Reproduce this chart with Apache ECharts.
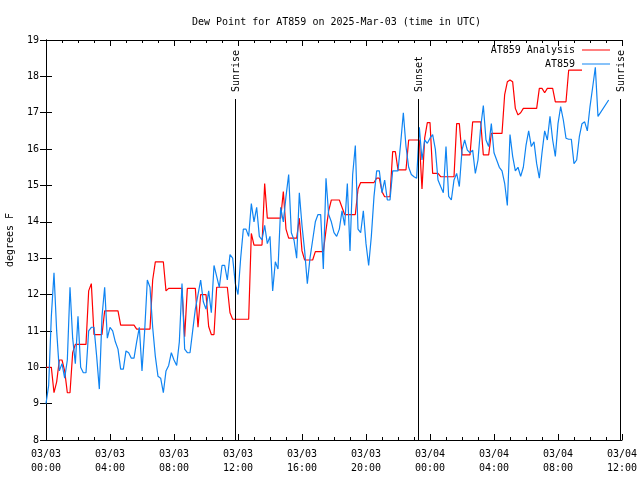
<!DOCTYPE html>
<html>
<head>
<meta charset="utf-8">
<script src="https://cdn.jsdelivr.net/npm/echarts@6/dist/echarts.min.js"></script>
<style>
html,body{margin:0;padding:0;background:#fff;}
#chart{width:640px;height:480px;}
</style>
</head>
<body>
<div id="chart"></div>
<script>
// ---- data ----
const titleText = 'Dew Point for AT859 on 2025-Mar-03 (time in UTC)';
const yAxisName = 'degrees F';
const stepMinutes = 10; // sample spacing, starting 2025-03-03 00:00 UTC
const xTickLabels = ['03/03\n00:00','03/03\n04:00','03/03\n08:00','03/03\n12:00','03/03\n16:00','03/03\n20:00','03/04\n00:00','03/04\n04:00','03/04\n08:00','03/04\n12:00'];
const seriesNames = ['AT859 Analysis', 'AT859'];

const analysisValues = [
10.0,10.0,10.0,9.3,9.6,10.2,10.2,9.9,9.3,9.3,
10.4,10.63,10.63,10.63,10.63,10.63,12.1,12.3,10.9,10.9,
10.9,10.9,11.55,11.55,11.55,11.55,11.55,11.55,11.16,11.16,
11.16,11.16,11.16,11.16,11.05,11.05,11.05,11.05,11.05,11.05,
12.4,12.9,12.9,12.9,12.9,12.1,12.17,12.17,12.17,12.17,
12.17,12.17,10.84,12.17,12.17,12.17,12.17,11.1,12.0,12.0,
12.0,11.12,10.9,10.9,12.2,12.2,12.2,12.2,12.2,11.5,
11.32,11.32,11.32,11.32,11.32,11.32,11.32,13.68,13.36,13.36,
13.36,13.36,15.05,14.1,14.1,14.1,14.1,14.1,14.1,14.83,
13.8,13.55,13.55,13.55,13.55,14.1,13.2,12.95,12.95,12.95,
12.95,13.18,13.18,13.18,13.18,13.77,14.3,14.6,14.6,14.6,
14.6,14.4,14.2,14.2,14.2,14.2,14.2,14.9,15.08,15.08,
15.08,15.08,15.08,15.08,15.2,15.2,14.83,14.69,14.69,14.69,
15.93,15.93,15.43,15.43,15.43,15.43,16.25,16.25,16.25,16.25,
16.25,14.9,16.3,16.73,16.73,15.33,15.33,15.33,15.24,15.24,
15.24,15.24,15.24,15.24,16.7,16.7,15.84,15.84,15.84,15.84,
16.75,16.75,16.75,16.75,15.84,15.84,15.84,16.43,16.43,16.43,
16.43,16.43,17.5,17.85,17.9,17.85,17.12,16.94,17.0,17.12,
17.12,17.12,17.12,17.12,17.12,17.67,17.67,17.55,17.67,17.67,
17.67,17.3,17.3,17.3,17.3,17.3,18.17,18.17,18.17,18.17,
18.17,18.17
];

const stationValues = [
9.0,9.5,11.4,12.6,11.0,9.9,10.1,9.7,10.2,12.2,
10.8,10.1,11.4,10.0,9.85,9.85,11.0,11.1,11.1,10.3,
9.4,11.4,12.2,10.8,11.1,11.0,10.7,10.5,9.95,9.95,
10.45,10.4,10.25,10.25,10.7,11.1,9.9,11.0,12.4,12.2,
11.1,10.3,9.75,9.7,9.3,9.9,10.05,10.4,10.2,10.05,
10.7,12.3,10.5,10.4,10.4,11.0,11.6,12.0,12.4,11.8,
11.6,12.1,11.5,12.8,12.5,12.2,12.8,12.8,12.4,13.1,
13.0,12.3,12.0,13.0,13.8,13.8,13.6,14.5,14.0,14.4,
13.6,13.5,13.9,13.4,13.6,12.1,12.9,12.7,14.4,14.0,
14.7,15.3,13.7,13.5,13.0,14.8,13.9,13.2,12.3,13.0,
13.5,14.0,14.2,14.2,12.7,15.2,14.2,14.0,13.7,13.6,
13.8,14.3,13.9,15.05,13.2,15.3,16.1,13.8,13.7,14.3,
13.4,12.8,13.6,14.7,15.4,15.4,14.8,15.15,14.6,14.6,
15.4,15.4,15.4,16.16,17.0,16.07,15.5,15.3,15.24,15.2,
16.6,15.7,16.25,16.16,16.3,16.4,16.0,15.15,14.97,14.8,
16.07,14.7,14.6,15.15,15.33,14.97,15.97,16.25,15.97,15.9,
15.97,15.33,15.7,16.6,17.2,16.25,16.07,16.7,15.9,15.7,
15.5,15.4,15.06,14.45,16.4,15.8,15.4,15.5,15.25,15.5,
16.1,16.5,16.07,16.2,15.6,15.2,15.9,16.5,16.25,16.9,
16.25,15.8,16.7,17.17,16.8,16.3,16.27,16.27,15.6,15.7,
16.34,16.7,16.75,16.5,17.17,17.7,18.25,16.9,null,null,
null,17.35
];

const sunEventLabels = ['Sunrise', 'Sunset', 'Sunrise'];
const sunEventHours = [11.83, 23.27, 35.88];

// ---- styles ----
const FONT = 'DejaVu Sans Mono';
const RED = '#ff0000';
const BLUE = '#0f84f2';
const yMin = 8, yMax = 19, xMin = 0, xMax = 36;

function toPairs(values) {
  return values.map((v, i) => [i * stepMinutes / 60, v]);
}

const chart = echarts.init(document.getElementById('chart'), null, {renderer: 'canvas'});

const axisCommon = {
  axisLine: {show: true, lineStyle: {color: '#000', width: 1}},
  splitLine: {show: false}
};

const legendCommon = {
  right: 30, align: 'right', icon: 'rect', padding: 0,
  itemWidth: 28, itemHeight: 1,
  textStyle: {fontFamily: FONT, fontSize: 10, color: '#000', padding: [0, 2, 0, 0]}
};

const option = {
  backgroundColor: '#fff',
  animation: false,
  textStyle: {fontFamily: FONT},
  title: {
    text: titleText,
    left: 187, top: 12,
    textStyle: {fontFamily: FONT, fontSize: 10, fontWeight: 'normal', color: '#000'}
  },
  grid: {left: 46, right: 18, top: 40, bottom: 40, containLabel: false, outerBoundsMode: 'none'},
  legend: [
    Object.assign({data: [seriesNames[0]], top: 45}, legendCommon),
    Object.assign({data: [seriesNames[1]], top: 59}, legendCommon)
  ],
  xAxis: [
    Object.assign({
      type: 'value', min: xMin, max: xMax, interval: 4, position: 'bottom',
      axisTick: {show: true, inside: true, length: 6, lineStyle: {color: '#000'}},
      minorTick: {show: true, splitNumber: 4, length: 3, lineStyle: {color: '#000'}},
      axisLabel: {
        show: true, margin: 7, color: '#000', fontFamily: FONT, fontSize: 10, lineHeight: 14,
        showMinLabel: true, showMaxLabel: true,
        formatter: (v) => xTickLabels[Math.round(v / 4)]
      }
    }, axisCommon),
    Object.assign({
      type: 'value', min: xMin, max: xMax, interval: 4, position: 'top',
      axisTick: {show: true, inside: true, length: 6, lineStyle: {color: '#000'}},
      minorTick: {show: true, splitNumber: 4, length: 3, lineStyle: {color: '#000'}},
      axisLabel: {show: false}
    }, axisCommon)
  ],
  yAxis: [
    Object.assign({
      type: 'value', min: yMin, max: yMax, interval: 1, position: 'left',
      name: yAxisName, nameLocation: 'middle', nameRotate: 90, nameGap: 31,
      nameTextStyle: {fontFamily: FONT, fontSize: 10, color: '#000'},
      axisTick: {show: true, inside: true, length: 6, lineStyle: {color: '#000'}},
      axisLabel: {show: true, margin: 7, color: '#000', fontFamily: FONT, fontSize: 10}
    }, axisCommon),
    Object.assign({
      type: 'value', min: yMin, max: yMax, interval: 1, position: 'right',
      axisTick: {show: true, inside: true, length: 6, lineStyle: {color: '#000'}},
      axisLabel: {show: false}
    }, axisCommon)
  ],
  series: [
    {
      name: seriesNames[0], type: 'line', xAxisIndex: 0, yAxisIndex: 0,
      data: toPairs(analysisValues), symbol: 'none',
      lineStyle: {color: RED, width: 1.2}, itemStyle: {color: RED}, z: 2
    },
    {
      name: seriesNames[1], type: 'line', xAxisIndex: 0, yAxisIndex: 0,
      data: toPairs(stationValues), symbol: 'none', connectNulls: true,
      lineStyle: {color: BLUE, width: 1.2}, itemStyle: {color: BLUE}, z: 3
    },
    {
      name: 'sun', type: 'custom', xAxisIndex: 0, yAxisIndex: 0, clip: false, z: 4,
      data: sunEventHours.map(h => [h, yMin]),
      renderItem: function (params, api) {
        const p = api.coord([api.value(0), yMin]);
        const x = Math.round(p[0]) + 0.5;
        const top = params.coordSys.y + 59;
        return {
          type: 'group',
          children: [
            {type: 'line', shape: {x1: x, y1: p[1], x2: x, y2: top},
             style: {stroke: '#000', lineWidth: 1}},
            {type: 'text', x: x + 0.5, y: top - 7, rotation: Math.PI / 2,
             style: {text: sunEventLabels[params.dataIndex], fill: '#000',
                     font: '10px ' + FONT, align: 'left', verticalAlign: 'middle'}}
          ]
        };
      }
    }
  ]
};
chart.setOption(option);
</script>
</body>
</html>
